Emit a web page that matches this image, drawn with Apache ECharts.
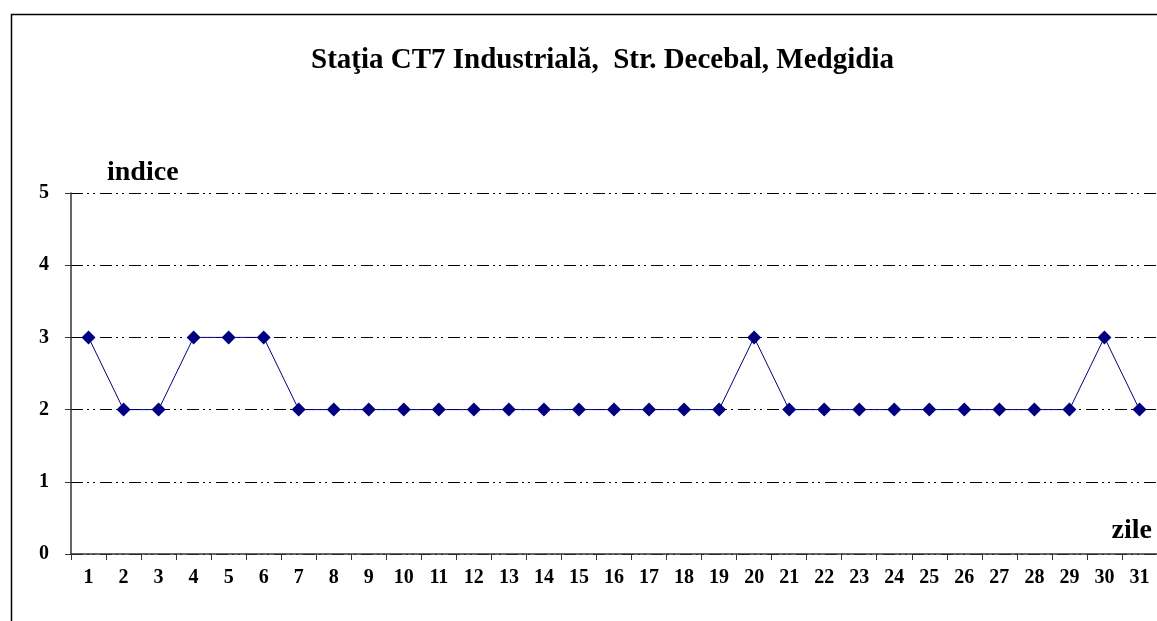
<!DOCTYPE html>
<html lang="ro">
<head>
    <meta charset="UTF-8">
    <title>Statia CT7 Industriala</title>
    <script src="https://cdn.jsdelivr.net/npm/echarts@6/dist/echarts.min.js"></script>
    <style>
        html, body { margin: 0; padding: 0; background: #fff; }
        #chart { width: 1157px; height: 621px; }
    </style>
</head>
<body>
<div id="chart"></div>
<script>
    // zilele lunii si indicele zilnic
    const zile = ['1','2','3','4','5','6','7','8','9','10','11','12','13','14','15','16',
        '17','18','19','20','21','22','23','24','25','26','27','28','29','30','31'];
    const indice = [3,2,2,3,3,3,2,2,2,2,2,2,2,2,2,2,2,2,2,3,2,2,2,2,2,2,2,2,2,3,2];
    const yTicks = [0, 1, 2, 3, 4, 5];

    const font = '"Liberation Serif", "Times New Roman", serif';
    const chart = echarts.init(document.getElementById('chart'));

    const option = {
        animation: false,
        backgroundColor: '#fff',
        title: {
            text: 'Staţia CT7 Industrială,  Str. Decebal, Medgidia',
            left: 306,
            top: 41,
            textStyle: { fontFamily: font, fontSize: 29, fontWeight: 'bold', color: '#000' }
        },
        graphic: [{
            type: 'rect',
            left: 9, top: 12,
            shape: { width: 1300, height: 800 },
            style: { fill: 'none', stroke: '#000', lineWidth: 1.5 },
            silent: true
        }],
        grid: { left: 71, right: -3, top: 193, bottom: 67 },
        xAxis: {
            type: 'category',
            data: zile,
            boundaryGap: true,
            name: 'zile',
            nameLocation: 'end',
            nameGap: -5,
            nameTextStyle: {
                fontFamily: font, fontSize: 28, fontWeight: 'bold', color: '#000',
                align: 'right', verticalAlign: 'bottom', padding: [0, 0, 9, 0]
            },
            axisLine: { lineStyle: { color: '#333', width: 1.5 } },
            axisTick: { show: true, inside: false, length: 6, alignWithLabel: false, lineStyle: { color: '#333' } },
            axisLabel: { fontFamily: font, fontSize: 20, fontWeight: 'bold', color: '#000', margin: 14, interval: 0 },
            splitLine: { show: false }
        },
        yAxis: {
            type: 'value',
            min: 0, max: 5, interval: 1,
            name: 'indice',
            nameLocation: 'end',
            nameGap: 6,
            nameTextStyle: {
                fontFamily: font, fontSize: 28, fontWeight: 'bold', color: '#000',
                align: 'left', padding: [0, 0, 0, 36]
            },
            axisLine: { show: true, lineStyle: { color: '#333', width: 1.5 } },
            axisTick: { show: true, length: 6, lineStyle: { color: '#333' } },
            axisLabel: {
                fontFamily: font, fontSize: 20, fontWeight: 'bold', color: '#000', margin: 22,
                formatter: v => yTicks.includes(v) ? String(v) : ''
            },
            splitLine: {
                show: true,
                lineStyle: { color: '#000', width: 1, type: [12, 4, 2, 4, 2, 5] }
            }
        },
        series: [{
            type: 'line',
            data: indice,
            symbol: 'diamond',
            symbolSize: 14,
            lineStyle: { color: '#000080', width: 1 },
            itemStyle: { color: '#000080' }
        }]
    };
    chart.setOption(option);
</script>
</body>
</html>
